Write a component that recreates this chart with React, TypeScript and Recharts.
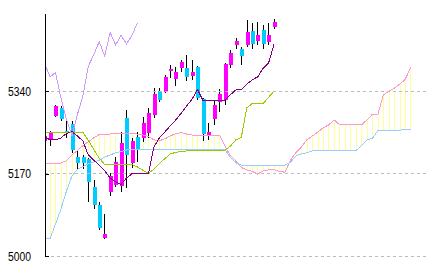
import React from 'react';
import { ComposedChart, Bar, Line, XAxis, YAxis, ReferenceLine } from 'recharts';

// bar index -1 is cut off by the axis; the cloud runs 25 bars past the last candle
const opens = [
  5237, 5240, 5290, 5306, 5258, 5273, 5205, 5205, 5200, 5143, 5105,
  5037, 5132, 5146, 5144, 5285, 5192, 5246, 5243, 5254, 5291, 5341,
  5338, 5383, 5366, 5389, 5388, 5372, 5391, 5324, 5250, 5284, 5318,
  5322, 5395, 5436, 5428, 5436, 5465, 5445, 5467, 5443, 5474,
];
const highs = [
  5252, 5258, 5312, 5310, 5281, 5279, 5217, 5209, 5202, 5157, 5112,
  5087, 5171, 5204, 5257, 5302, 5243, 5257, 5288, 5305, 5347, 5347,
  5374, 5395, 5390, 5405, 5415, 5405, 5393, 5326, 5274, 5322, 5346,
  5398, 5426, 5450, 5432, 5488, 5481, 5484, 5477, 5482, 5489,
];
const lows = [
  5235, 5227, 5288, 5279, 5244, 5213, 5178, 5180, 5112, 5097, 5054,
  5036, 5124, 5143, 5132, 5140, 5181, 5195, 5236, 5243, 5285, 5318,
  5336, 5367, 5351, 5381, 5361, 5364, 5322, 5238, 5240, 5271, 5298,
  5312, 5388, 5427, 5395, 5432, 5427, 5436, 5427, 5436, 5470,
];
const closes = [
  5248, 5256, 5310, 5284, 5256, 5219, 5192, 5192, 5153, 5105, 5058,
  5045, 5165, 5194, 5233, 5209, 5238, 5219, 5274, 5295, 5335, 5322,
  5370, 5387, 5381, 5400, 5370, 5381, 5326, 5252, 5257, 5312, 5334,
  5396, 5419, 5444, 5414, 5463, 5437, 5457, 5439, 5457, 5483,
];

const tenkan = [
  5246, 5240, 5240, 5244, 5253, 5257, 5248, 5238, 5209, 5198, 5188,
  5176, 5161, 5153, 5148, 5161, 5170, 5170, 5170, 5170, 5225, 5244,
  5256, 5269, 5281, 5295, 5310, 5324, 5344, 5321, 5321, 5321, 5321,
  5322, 5333, 5343, 5344, 5355, 5364, 5370, 5388, 5399, 5438,
];
const kijun = [
  5256, 5256, 5256, 5256, 5256, 5256, 5256, 5256, 5239, 5220, 5202,
  5189, 5189, 5189, 5189, 5189, 5189, 5184, 5177, 5171, 5179, 5191,
  5201, 5211, 5214, 5216, 5217, 5219, 5219, 5219, 5219, 5219, 5219,
  5219, 5227, 5240, 5245, 5306, 5315, 5315, 5315, 5328, 5341,
];
const chikou = [
  5398, 5370, 5379, 5326, 5282, 5248, 5292, 5330, 5392, 5416, 5443,
  5413, 5462, 5436, 5456, 5438, 5456, 5482,
];
const spanA = [
  5191, 5191, 5191, 5192, 5197, 5209, 5218, 5228, 5236, 5244, 5251,
  5252, 5252, 5253, 5254, 5254, 5254, 5252, 5250, 5247, 5240, 5238,
  5242, 5248, 5253, 5255, 5252, 5250, 5249, 5250, 5250, 5250, 5250,
  5227, 5208, 5196, 5183, 5178, 5175, 5169, 5176, 5178, 5178, 5175,
  5173, 5198, 5214, 5225, 5240, 5248, 5256, 5265, 5271, 5281, 5271,
  5271, 5271, 5271, 5271, 5281, 5293, 5293, 5333, 5340, 5347, 5355,
  5365, 5390,
];
const spanB = [
  5036, 5036, 5066, 5097, 5134, 5165, 5179, 5185, 5190, 5194, 5198,
  5204, 5209, 5213, 5216, 5219, 5220, 5220, 5220, 5220, 5220, 5220,
  5220, 5220, 5220, 5220, 5220, 5220, 5220, 5220, 5220, 5220, 5220,
  5220, 5204, 5192, 5188, 5188, 5188, 5188, 5188, 5188, 5188, 5188,
  5188, 5194, 5207, 5211, 5213, 5217, 5218, 5218, 5218, 5218, 5218,
  5218, 5218, 5218, 5228, 5240, 5243, 5259, 5260, 5260, 5260, 5260,
  5262, 5262,
];
const priceTicks = [5000, 5170, 5340];

const UP = '#ff00ff';
const DOWN = '#00ccff';

type Row = {
  i: number;
  open: number | null;
  high: number | null;
  low: number | null;
  close: number | null;
  tenkan: number | null;
  kijun: number | null;
  chikou: number | null;
  spanA: number | null;
  spanB: number | null;
};

const rows: Row[] = spanA.map((_, k) => ({
  i: k - 1,
  open: opens[k] ?? null,
  high: highs[k] ?? null,
  low: lows[k] ?? null,
  close: closes[k] ?? null,
  tenkan: tenkan[k] ?? null,
  kijun: kijun[k] ?? null,
  chikou: chikou[k] ?? null,
  spanA: spanA[k] ?? null,
  spanB: spanB[k] ?? null,
}));

// one bar per index spanning candle + cloud, so the shape can place both
const rangeOf = (d: Row): [number, number] => {
  const vals = [d.high, d.low, d.spanA, d.spanB].filter((v) => v != null) as number[];
  return [Math.min(...vals), Math.max(...vals)];
};

const CandleShape = (props: any) => {
  const { x, y, width, height, payload } = props;
  if (!payload || !Number.isFinite(y) || !Number.isFinite(height)) return null;
  const [lo, hi] = rangeOf(payload);
  const top = Math.min(y, y + height);
  const h = Math.abs(height);
  const toY = (v: number) => (hi === lo ? top : top + ((hi - v) / (hi - lo)) * h);
  const cx = Math.floor(x + width / 2);
  const parts: React.ReactNode[] = [];
  if (payload.spanA != null && payload.spanB != null) {
    parts.push(
      <line key="cloud" x1={cx + 0.5} x2={cx + 0.5} y1={toY(payload.spanA)} y2={toY(payload.spanB)}
        stroke="#ffff99" strokeWidth={1} />
    );
  }
  if (payload.open != null) {
    const up = payload.close >= payload.open;
    const bTop = Math.round(toY(Math.max(payload.open, payload.close)));
    const bBot = Math.round(toY(Math.min(payload.open, payload.close)));
    parts.push(
      <line key="wick" x1={cx + 0.5} x2={cx + 0.5} y1={Math.round(toY(payload.high))} y2={Math.round(toY(payload.low))}
        stroke="#000" strokeWidth={1} />
    );
    parts.push(
      <rect key="body" x={cx - 1} y={bTop} width={4} height={Math.max(1, bBot - bTop)}
        fill={up ? UP : DOWN} shapeRendering="crispEdges" />
    );
  }
  return <g>{parts}</g>;
};

const PriceTick = (props: any) => {
  const { x, y, payload } = props;
  const yy = Math.round(y) + 0.5;
  return (
    <g>
      <line x1={x} x2={x + 4} y1={yy} y2={yy} stroke="#000" strokeWidth={1} />
      <text x={x - 14} y={y} dy={4.5} textAnchor="end" fontSize={12} fill="#000"
        fontFamily="'Liberation Sans', Arial, sans-serif" textLength={23} lengthAdjust="spacingAndGlyphs">
        {payload.value}
      </text>
    </g>
  );
};

const lineProps = {
  type: 'linear' as const,
  dot: false,
  activeDot: false,
  strokeWidth: 1,
  isAnimationActive: false,
  connectNulls: false,
  shapeRendering: 'crispEdges',
};

export default function App() {
  return (
    <div style={{ position: 'absolute', left: 0, top: 0, width: 432, height: 270, background: '#fff' }}>
      <ComposedChart width={432} height={270} data={rows} margin={{ top: 14, right: 6, bottom: 14, left: 0 }}>
        <XAxis type="number" dataKey="i" domain={[-0.92, 68.8]} allowDataOverflow hide />
        <YAxis
          type="number"
          domain={[5000, 5500]}
          ticks={priceTicks}
          allowDataOverflow
          width={45}
          tickSize={0}
          tickMargin={0}
          tickLine={false}
          axisLine={{ stroke: '#000', shapeRendering: 'crispEdges' }}
          tick={<PriceTick />}
        />
        {priceTicks.map((v) => (
          <ReferenceLine key={v} y={v} stroke="#bbbbbb" strokeDasharray="3 3" shapeRendering="crispEdges" />
        ))}
        <Bar dataKey={rangeOf} barSize={4} shape={(p: any) => <CandleShape {...p} />} isAnimationActive={false} />
        <Line dataKey="spanA" stroke="#ff99cc" {...lineProps} />
        <Line dataKey="spanB" stroke="#99ccff" {...lineProps} />
        <Line dataKey="kijun" stroke="#99cc00" {...lineProps} />
        <Line dataKey="tenkan" stroke="#800080" {...lineProps} />
        <Line dataKey="chikou" stroke="#cc99ff" {...lineProps} />
      </ComposedChart>
    </div>
  );
}
